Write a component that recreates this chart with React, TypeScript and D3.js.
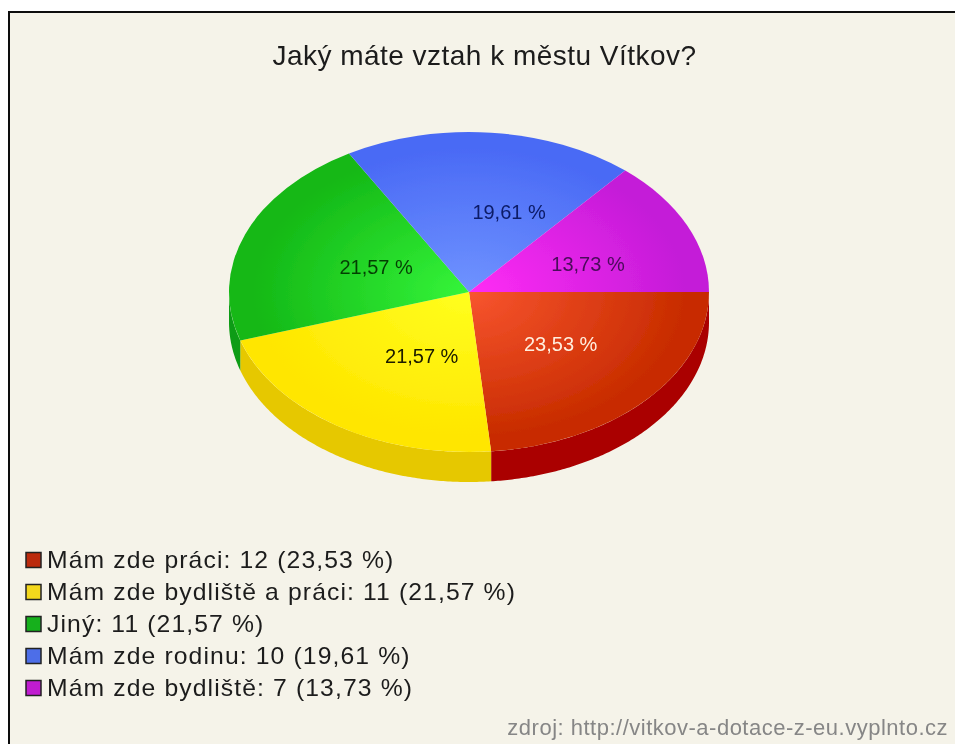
import React, { useEffect, useRef } from 'react';
import * as d3 from 'd3';

const title = 'Jaký máte vztah k městu Vítkov?';
const source = 'zdroj: http://vitkov-a-dotace-z-eu.vyplnto.cz';
const categories = ['Mám zde práci', 'Mám zde bydliště a práci', 'Jiný', 'Mám zde rodinu', 'Mám zde bydliště'];
const counts = [12, 11, 11, 10, 7];
const percents = ['23,53 %', '21,57 %', '21,57 %', '19,61 %', '13,73 %'];
const innerColors = ['#f8552f', '#ffff1e', '#35f53a', '#6f93ff', '#ff2cf5'];
const outerColors = ['#c82c00', '#ffe600', '#14b816', '#4a6af5', '#c41cd8'];
const sideColors = ['#aa0000', '#e6c800', '#0f9c14', '#3048b0', '#8a1299'];
const labelColors = ['#ffeedd', '#1a1a00', '#063f06', '#0b1a66', '#4a0a5a'];
const legendColors = ['#bb2a08', '#f4d81c', '#16b01c', '#4d6ee8', '#c01ad0'];

// hand nudges so the percent labels sit where the original puts them
const labelNudgeX = [2, 18, 18, 28, 9];
const labelNudgeY = [5, 4, 11, 7, 12];

export default function App() {
  const ref = useRef<SVGSVGElement>(null);

  useEffect(() => {
    const width = 955;
    const height = 744;
    const cx = 469;
    const cy = 292;
    const rx = 240;
    const ry = 160;
    const depth = 30;

    const svg = d3.select(ref.current).attr('viewBox', [0, 0, width, height].join(' '));
    svg.selectAll('*').remove();

    const defs = svg.append('defs');
    // the original is a soft jpeg, a very light blur gets closer to it
    defs.append('filter').attr('id', 'soft').append('feGaussianBlur').attr('stdDeviation', 0.45);

    const root = svg.append('g').attr('filter', 'url(#soft)');

    root.append('rect').attr('width', width).attr('height', height).attr('fill', '#ffffff');
    root.append('rect').attr('x', 9).attr('y', 12).attr('width', width - 9).attr('height', height - 12)
      .attr('fill', '#f5f3e9');
    root.append('path').attr('d', `M9,${height}V12H${width}`).attr('fill', 'none')
      .attr('stroke', '#111111').attr('stroke-width', 2);

    root.append('text').attr('x', 484.5).attr('y', 65).attr('text-anchor', 'middle')
      .attr('font-family', 'Liberation Sans').attr('font-size', 28).attr('letter-spacing', 0.48)
      .attr('fill', '#1a1a1a').text(title);

    const pie = d3.pie<number>().sort(null).startAngle(Math.PI / 2).endAngle(Math.PI / 2 + 2 * Math.PI);
    const slices = pie(counts);

    slices.forEach((_, i) => {
      const grad = defs.append('radialGradient').attr('id', `slice-${i}`)
        .attr('gradientUnits', 'userSpaceOnUse').attr('cx', 0).attr('cy', 0).attr('r', 1);
      grad.append('stop').attr('offset', '0%').attr('stop-color', innerColors[i]);
      grad.append('stop').attr('offset', '90%').attr('stop-color', outerColors[i]);
    });

    // side wall, only the front half of the ellipse shows
    const side = root.append('g').attr('transform', `translate(${cx},${cy})`);
    const toTheta = (a: number) => a - Math.PI / 2;
    slices.forEach((d, i) => {
      const a0 = Math.max(toTheta(d.startAngle), 0);
      const a1 = Math.min(toTheta(d.endAngle), Math.PI);
      if (a1 <= a0) return;
      const steps = d3.range(a0, a1, 0.01).concat([a1]);
      const top = steps.map((t) => [rx * Math.cos(t), ry * Math.sin(t)] as [number, number]);
      const bottom = steps.slice().reverse().map((t) => [rx * Math.cos(t), ry * Math.sin(t) + depth] as [number, number]);
      side.append('path').attr('d', d3.line()([...top, ...bottom]) + 'Z').attr('fill', sideColors[i]);
    });

    const arc = d3.arc<d3.PieArcDatum<number>>().innerRadius(0).outerRadius(1);
    root.append('g').attr('transform', `translate(${cx},${cy}) scale(${rx},${ry})`)
      .selectAll('path').data(slices).enter().append('path')
      .attr('d', arc)
      .attr('fill', (_, i) => `url(#slice-${i})`);

    const labelArc = d3.arc<d3.PieArcDatum<number>>().innerRadius(1).outerRadius(1);
    root.append('g').selectAll('text').data(slices).enter().append('text')
      .attr('x', (d, i) => cx + labelArc.centroid(d)[0] * 0.5 * rx + labelNudgeX[i] + 1)
      .attr('y', (d, i) => cy + labelArc.centroid(d)[1] * 0.5 * ry + labelNudgeY[i])
      .attr('text-anchor', 'middle')
      .attr('font-family', 'Liberation Sans').attr('font-size', 20)
      .attr('fill', (_, i) => labelColors[i])
      .text((_, i) => percents[i]);

    const legendY = d3.scalePoint<number>().domain(d3.range(categories.length)).range([560, 688]);
    const legend = root.append('g').selectAll('g').data(categories).enter().append('g')
      .attr('transform', (_, i) => `translate(0,${legendY(i)})`);
    legend.append('rect').attr('x', 26).attr('y', -7.5).attr('width', 15).attr('height', 15)
      .attr('fill', (_, i) => legendColors[i]).attr('stroke', '#222222').attr('stroke-width', 1.5);
    legend.append('text').attr('transform', 'translate(47,8) scale(1.03,1)')
      .attr('font-family', 'Liberation Sans').attr('font-size', 24).attr('letter-spacing', 1.08)
      .attr('fill', '#1c1c1c')
      .text((d, i) => `${d}: ${counts[i]} (${percents[i]})`);

    root.append('text').attr('x', 948).attr('y', 735).attr('text-anchor', 'end')
      .attr('font-family', 'Liberation Sans').attr('font-size', 22).attr('letter-spacing', 0.5)
      .attr('fill', '#868686').text(source);
  }, []);

  return (
    <svg ref={ref} width={955} height={744} style={{ position: 'absolute', left: 0, top: 0 }} />
  );
}
